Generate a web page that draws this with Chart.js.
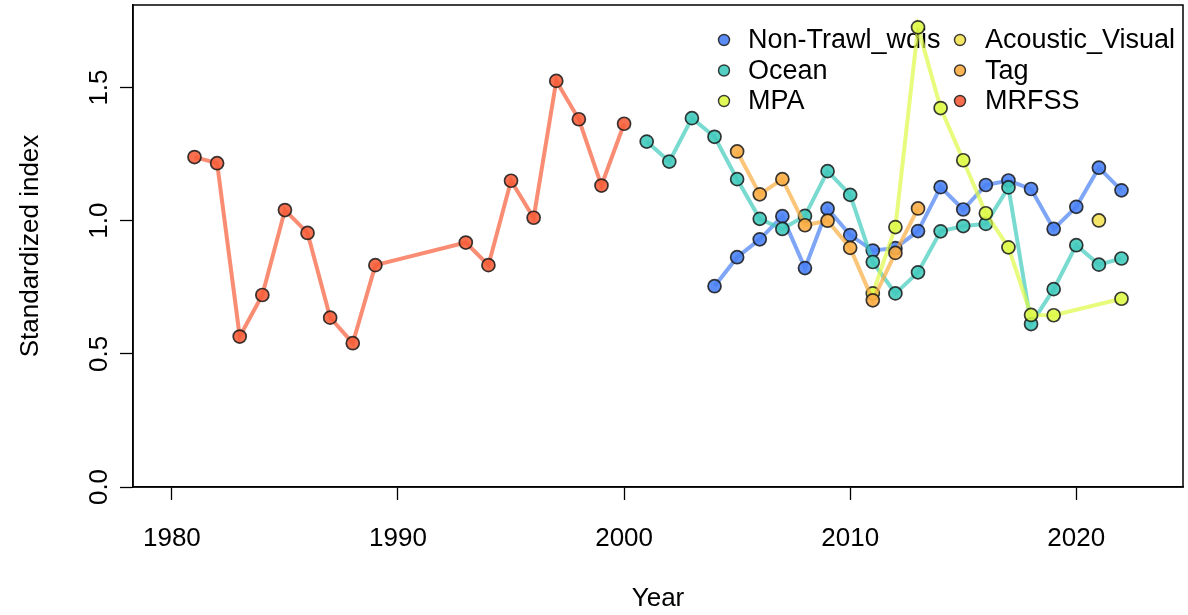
<!DOCTYPE html>
<html>
<head>
<meta charset="utf-8">
<script src="https://cdn.jsdelivr.net/npm/chart.js@4.4.1/dist/chart.umd.min.js"></script>
<style>
  html, body { margin: 0; padding: 0; background: #fff; }
</style>
</head>
<body>
<canvas id="indexChart" width="1188" height="615"></canvas>
<script>
// series: years and standardized index values
const nonTrawlYears = [2004, 2005, 2006, 2007, 2008, 2009, 2010, 2011, 2012, 2013, 2014, 2015, 2016, 2017, 2018, 2019, 2020, 2021, 2022];
const nonTrawlValues = [0.754, 0.863, 0.930, 1.017, 0.822, 1.045, 0.946, 0.888, 0.897, 0.961, 1.126, 1.042, 1.134, 1.151, 1.119, 0.969, 1.052, 1.199, 1.114];

const oceanYears = [2001, 2002, 2003, 2004, 2005, 2006, 2007, 2008, 2009, 2010, 2011, 2012, 2013, 2014, 2015, 2016, 2017, 2018, 2019, 2020, 2021, 2022];
const oceanValues = [1.297, 1.222, 1.385, 1.315, 1.156, 1.007, 0.969, 1.018, 1.186, 1.097, 0.845, 0.727, 0.806, 0.960, 0.980, 0.988, 1.125, 0.612, 0.743, 0.908, 0.835, 0.858];

const mpaYears = [2011, 2012, 2013, 2014, 2015, 2016, 2017, 2018, 2019, 2022];
const mpaValues = [0.727, 0.976, 1.726, 1.423, 1.227, 1.028, 0.900, 0.646, 0.645, 0.707];

const acousticYears = [2021];
const acousticValues = [1.001];

const tagYears = [2005, 2006, 2007, 2008, 2009, 2010, 2011, 2012, 2013];
const tagValues = [1.260, 1.099, 1.156, 0.983, 1.000, 0.898, 0.701, 0.879, 1.046];

const mrfssYears = [1981, 1982, 1983, 1984, 1985, 1986, 1987, 1988, 1989, 1993, 1994, 1995, 1996, 1997, 1998, 1999, 2000];
const mrfssValues = [1.239, 1.216, 0.565, 0.721, 1.040, 0.954, 0.636, 0.540, 0.833, 0.918, 0.833, 1.150, 1.011, 1.525, 1.381, 1.132, 1.364];

const xTicks = [1980, 1990, 2000, 2010, 2020];
const yTicks = [0, 0.5, 1.0, 1.5];

const FONT = 'Liberation Sans, Arial, sans-serif';

function pts(years, values) {
    return years.map((yr, i) => ({ x: yr, y: values[i] }));
}

function makeSet(label, years, values, rgb, order) {
    return {
        label: label,
        data: pts(years, values),
        borderColor: `rgba(${rgb}, 0.7)`,
        borderWidth: 4,
        pointBackgroundColor: `rgba(${rgb}, 0.88)`,
        pointBorderColor: 'rgba(25, 25, 25, 0.85)',
        pointBorderWidth: 1.7,
        pointRadius: 6.5,
        pointHoverRadius: 6.5,
        showLine: true,
        tension: 0,
        fill: false,
        order: order,
        legendColor: `rgba(${rgb}, 0.9)`
    };
}

const datasets = [
    makeSet('Non-Trawl_wdis', nonTrawlYears, nonTrawlValues, '72, 128, 242', 6),
    makeSet('Ocean', oceanYears, oceanValues, '64, 202, 188', 5),
    makeSet('MPA', mpaYears, mpaValues, '222, 250, 70', 4),
    makeSet('Acoustic_Visual', acousticYears, acousticValues, '244, 226, 84', 3),
    makeSet('Tag', tagYears, tagValues, '250, 172, 66', 2),
    makeSet('MRFSS', mrfssYears, mrfssValues, '246, 92, 56', 1)
];

// legend in two columns, column-major like the R legend, plus the full box
const boxAndLegend = {
    id: 'boxAndLegend',
    beforeDatasetsDraw(chart) {
        const ctx = chart.ctx;
        const cols = [{ sx: 724, tx: 748 }, { sx: 960, tx: 985 }];
        const rowY = [40, 70.5, 101];
        ctx.save();
        ctx.font = `27px ${FONT}`;
        ctx.textBaseline = 'middle';
        ctx.textAlign = 'left';
        datasets.forEach((ds, i) => {
            const c = cols[Math.floor(i / 3)];
            const y = rowY[i % 3];
            ctx.beginPath();
            ctx.arc(c.sx, y, 5.5, 0, Math.PI * 2);
            ctx.fillStyle = ds.legendColor;
            ctx.fill();
            ctx.lineWidth = 1.4;
            ctx.strokeStyle = 'rgba(25, 25, 25, 0.85)';
            ctx.stroke();
            ctx.fillStyle = '#000';
            ctx.fillText(ds.label, c.tx, y + 1);
        });
        ctx.restore();
    },
    afterDraw(chart) {
        const a = chart.chartArea;
        const ctx = chart.ctx;
        ctx.save();
        ctx.strokeStyle = '#000';
        ctx.lineWidth = 1.5;
        ctx.strokeRect(a.left, a.top, a.right - a.left, a.bottom - a.top);
        ctx.restore();
    }
};

const ctx = document.getElementById('indexChart').getContext('2d');
new Chart(ctx, {
    type: 'line',
    data: { datasets: datasets },
    options: {
        responsive: false,
        animation: false,
        devicePixelRatio: 1,
        layout: { autoPadding: false, padding: { top: 5, right: 5, left: 0, bottom: 0 } },
        elements: { line: { clip: false } },
        plugins: {
            legend: { display: false },
            tooltip: { enabled: false }
        },
        scales: {
            x: {
                type: 'linear',
                min: 1978.28,
                max: 2024.72,
                afterBuildTicks: s => { s.ticks = xTicks.map(v => ({ value: v })); },
                afterFit: s => { s.height = 128; s.paddingLeft = 0; s.paddingRight = 0; },
                ticks: {
                    color: '#000',
                    font: { family: FONT, size: 26 },
                    padding: 23,
                    maxRotation: 0,
                    callback: v => String(v)
                },
                grid: {
                    drawOnChartArea: false,
                    drawTicks: true,
                    tickLength: 13,
                    tickColor: '#000',
                    tickWidth: 1.3
                },
                border: { display: true, color: '#000', width: 1.5 },
                title: {
                    display: true,
                    text: 'Year',
                    color: '#000',
                    font: { family: FONT, size: 26 },
                    padding: { top: 0, bottom: 1 }
                }
            },
            y: {
                type: 'linear',
                min: 0,
                max: 1.81,
                afterBuildTicks: s => { s.ticks = yTicks.map(v => ({ value: v })); },
                afterFit: s => { s.width = 133; s.paddingTop = 0; s.paddingBottom = 0; },
                ticks: {
                    color: '#000',
                    font: { family: FONT, size: 26 },
                    padding: 2,
                    minRotation: 90,
                    maxRotation: 90,
                    crossAlign: 'center',
                    callback: v => v.toFixed(1)
                },
                grid: {
                    drawOnChartArea: false,
                    drawTicks: true,
                    tickLength: 13,
                    tickColor: '#000',
                    tickWidth: 1.3
                },
                border: { display: true, color: '#000', width: 1.5 },
                title: {
                    display: true,
                    text: 'Standardized index',
                    color: '#000',
                    font: { family: FONT, size: 26 },
                    padding: { top: 15, bottom: 0 }
                }
            }
        }
    },
    plugins: [boxAndLegend]
});
</script>
</body>
</html>
